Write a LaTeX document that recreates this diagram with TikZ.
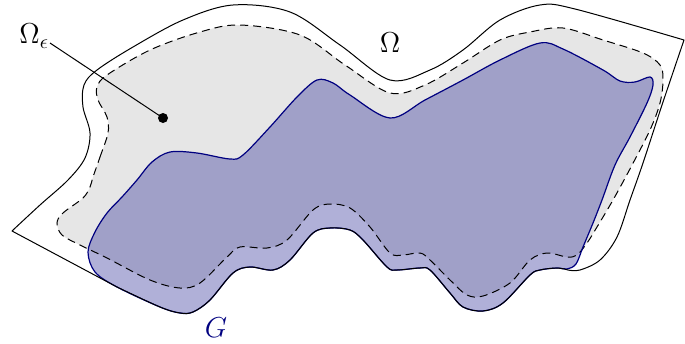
\documentclass[tikz,border=0pt]{standalone}
\usetikzlibrary{calc}
\definecolor{epsgray}{RGB}{230,230,230}
\definecolor{gfill}{RGB}{36,36,147}
\definecolor{gline}{RGB}{0,0,128}
\tikzset{
  epsregion/.style={fill=epsgray},
  epsborder/.style={draw=black,line width=0.5pt,dash pattern=on 4pt off 2.5pt},
  gregion/.style={fill=gfill,fill opacity=0.36},
  gborder/.style={draw=gline,line width=0.6pt},
  omegaborder/.style={draw=black,line width=0.5pt,line join=round},
  lbl/.style={font=\Large,inner sep=0pt}
}
\begin{document}
\begin{tikzpicture}[x=0.5pt,y=-0.5pt]
\useasboundingbox (0,0) rectangle (685,343);
\def\epspath{plot[smooth cycle,tension=0.55] coordinates{
 (93,177) (100,157) (108,133) (107,117) (98,100) (97,87) (107,75) (150,50) (200,32) (240,25)
 (300,35) (345,65) (390,93) (425,85) (463,63) (500,40) (530,32) (563,28) (603,40) (643,53)
 (660,65) (663,80) (660,103) (650,130) (631,167) (613,200) (597,227) (587,243) (577,255)
 (567,257) (547,253) (530,260) (510,283) (483,296) (467,295) (450,280) (430,260) (420,253) (403,255)
 (390,253) (370,227) (350,208) (330,204) (313,210) (287,240) (267,248) (240,247) (227,257) (200,283)
 (180,288) (150,280) (107,258) (80,245) (62,235) (57,223) (63,213) (83,198) (90,187)}}
\def\gpath{plot[smooth cycle,tension=0.55] coordinates{
 (88,252) (95,232) (107,213) (122,197) (137,180) (152,162) (170,152) (197,153) (230,159) (243,155)
 (270,127) (297,97) (317,80) (333,83) (350,95) (390,118) (425,100) (463,80) (500,60) (540,43)
 (563,49) (603,70) (620,81) (635,82) (650,77) (653,85) (647,103) (630,137) (615,165)
 (602,200) (593,223) (583,247) (576,264) (567,269) (557,268) (540,270) (530,275) (503,303) (483,311)
 (463,307) (450,293) (430,270) (420,268) (397,270) (387,267) (363,240) (350,230) (330,228) (313,233)
 (290,260) (273,270) (250,267) (233,273) (210,300) (193,312) (180,313) (160,307) (117,287) (95,272)}}
% regions
\path[epsregion] \epspath;
\path[gregion] \gpath;
\path[epsborder] \epspath;
\path[gborder] \gpath;
% outer boundary Omega
\draw[omegaborder] plot[smooth,tension=0.55] coordinates{
 (568,270) (557,268) (540,270) (530,275) (503,303) (483,311) (463,307) (450,293) (430,270) (420,268)
 (397,270) (387,267) (363,240) (350,230) (330,228) (313,233) (290,260) (273,270) (250,267) (233,273)
 (210,300) (193,312) (180,313) (160,307) (117,287)}
 -- (12,231)
 -- plot[smooth,tension=0.55] coordinates{
 (12,231) (40,205) (68,180) (85,158) (90,133) (83,107) (84,85) (97,70) (133,47) (183,20) (233,5)
 (290,12) (340,45) (390,80) (430,70) (463,50) (500,20) (540,5) (575,9) (684,40)}
 -- plot[smooth,tension=0.55] coordinates{
 (684,40) (662,105) (643,163) (630,200) (617,237) (600,260) (580,270) (568,270)};
% labels
\node[lbl] (om) at (390,43) {$\Omega$};
\node[lbl] (G) at (216,328) {\color{gline}$G$};
\node[lbl,anchor=west] (ome) at (19,36) {$\Omega_\epsilon$};
\node[circle,fill=black,inner sep=0pt,minimum size=5pt] (dot) at (163,118) {};
\coordinate (lstart) at (50,43);
\draw[line width=0.5pt] (lstart) -- (dot.center);
\end{tikzpicture}
\end{document}
